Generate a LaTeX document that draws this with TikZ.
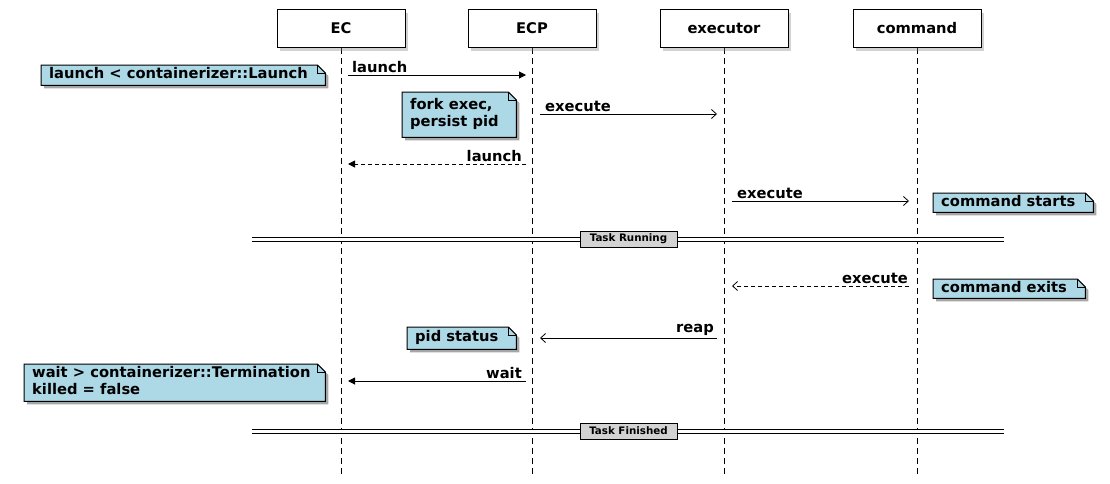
\documentclass[tikz,border=0pt]{standalone}
\usepackage{fontspec}
\setmainfont{DejaVu Sans}
\usetikzlibrary{arrows.meta,backgrounds,shadows}
\definecolor{notebg}{HTML}{ADD8E6}
\definecolor{divbg}{HTML}{D3D3D3}
\pgfdeclarelayer{bg}
\pgfsetlayers{bg,background,main}
\tikzset{
  base/.style={font=\fontsize{14.7}{17}\selectfont\bfseries},
  actor/.style={base, draw, fill=white, line width=1pt, minimum width=128pt, minimum height=38pt, inner sep=0pt,
    drop shadow={shadow xshift=3pt,shadow yshift=-3pt,opacity=.35}},
  lifeline/.style={line width=1pt, dash pattern=on 6pt off 4pt},
  msg/.style={line width=1pt},
  dmsg/.style={line width=1pt, dash pattern=on 4pt off 3pt},
  fulltip/.style={-{Triangle[length=7pt,width=7pt]}},
  opentip/.style={-{Straight Barb[length=5pt,width=9pt,line width=0.8pt]}},
  lbl/.style={base, inner sep=0pt},
  notebox/.style={base, inner xsep=8pt, inner ysep=0pt, anchor=north west},
  notefill/.style={fill=notebg, draw=black, line width=1pt},
  noteshadow/.style={fill=black, opacity=.35},
  divline/.style={draw=black, line width=1pt, double=white, double distance=3pt},
  divlbl/.style={draw=black, fill=divbg, line width=1pt, font=\fontsize{10.3}{12}\selectfont\bfseries,
    minimum width=97pt, minimum height=16pt, inner sep=0pt},
}
\newcommand\notefold[1]{%
  \begin{pgfonlayer}{background}
    \fill[noteshadow] ([shift={(3,3)}]#1.south west) -- ([shift={(3,3)}]#1.north west)
      -- ([shift={(-5,3)}]#1.north east) -- ([shift={(3,11)}]#1.north east)
      -- ([shift={(3,3)}]#1.south east) -- cycle;
    \filldraw[notefill] (#1.south west) -- (#1.north west) -- ([shift={(-8,0)}]#1.north east)
      -- ([shift={(0,8)}]#1.north east) -- (#1.south east) -- cycle;
    \draw[line width=.6pt] ([shift={(-8,0)}]#1.north east) -- ([shift={(-8,8)}]#1.north east)
      -- ([shift={(0,8)}]#1.north east);
  \end{pgfonlayer}}
\newcommand\notetext[2]{\makebox[#1][l]{\begin{tabular}[c]{@{}l@{}}#2\end{tabular}}}
\begin{document}
\begin{tikzpicture}[x=1pt,y=-1pt]
\begin{pgfonlayer}{bg}
  \fill[white] (0,0) rectangle (1110,483);
\end{pgfonlayer}
\useasboundingbox (0,0) rectangle (1110,483);

% participants
\node[actor] (ec)   at (341,28.5) {EC};
\node[actor] (ecp)  at (532,28.5) {ECP};
\node[actor] (exe)  at (724,28.5) {executor};
\node[actor] (cmd)  at (917,28.5) {command};

\coordinate (ecEnd)  at (341,475);
\coordinate (ecpEnd) at (532,475);
\coordinate (exeEnd) at (724,475);
\coordinate (cmdEnd) at (917,475);
\begin{pgfonlayer}{background}
\draw[lifeline] (ec.south)  -- (ecEnd);
\draw[lifeline] (ecp.south) -- (ecpEnd);
\draw[lifeline] (exe.south) -- (exeEnd);
\draw[lifeline] (cmd.south) -- (cmdEnd);
\end{pgfonlayer}

% message 1: launch
\coordinate (m1a) at (348,75);  \coordinate (m1b) at (526,75);
\draw[msg,fulltip] (m1a) -- (m1b);
\node[lbl,anchor=south west] (l1) at (352,72.5) {launch};
\node[notebox,minimum height=20pt] (n1) at (41,65) {\notetext{268pt}{launch < containerizer::Launch}};
\notefold{n1}

% message 2: execute
\coordinate (m2a) at (540,114); \coordinate (m2b) at (717,114);
\draw[msg,opentip] (m2a) -- (m2b);
\node[lbl,anchor=south west] (l2) at (545,111.5) {execute};
\node[notebox,minimum height=45pt] (n2) at (402,92) {\notetext{98pt}{fork exec,\\persist pid}};
\notefold{n2}

% message 3: launch return
\coordinate (m3a) at (526,164); \coordinate (m3b) at (348,164);
\draw[dmsg,fulltip] (m3a) -- (m3b);
\node[lbl,anchor=south east] (l3) at (522,161.5) {launch};

% message 4: execute
\coordinate (m4a) at (732,201); \coordinate (m4b) at (909,201);
\draw[msg,opentip] (m4a) -- (m4b);
\node[lbl,anchor=south west] (l4) at (737,198.5) {execute};
\node[notebox,minimum height=19pt] (n3) at (933,193) {\notetext{144pt}{command starts}};
\notefold{n3}

% divider Task Running
\coordinate (d1a) at (252,239); \coordinate (d1b) at (1004,239);
\draw[divline] (d1a) -- (d1b);
\node[divlbl] (d1) at (628.5,239) {Task Running};

% message 5: execute return
\coordinate (m5a) at (909,286); \coordinate (m5b) at (732,286);
\draw[dmsg,opentip] (m5a) -- (m5b);
\node[lbl,anchor=south east] (l5) at (908,283.5) {execute};
\node[notebox,minimum height=19pt] (n4) at (933,279) {\notetext{136pt}{command exits}};
\notefold{n4}

% message 6: reap
\coordinate (m6a) at (717,338); \coordinate (m6b) at (540,338);
\draw[msg,opentip] (m6a) -- (m6b);
\node[lbl,anchor=south east] (l6) at (714,336) {reap};
\node[notebox,minimum height=22pt] (n5) at (407,327) {\notetext{93pt}{pid status}};
\notefold{n5}

% message 7: wait
\coordinate (m7a) at (526,381); \coordinate (m7b) at (348,381);
\draw[msg,fulltip] (m7a) -- (m7b);
\node[lbl,anchor=south east] (l7) at (522,378.5) {wait};
\node[notebox,minimum height=37pt] (n6) at (24,364) {\notetext{285pt}{wait > containerizer::Termination\\killed = false}};
\notefold{n6}

% divider Task Finished
\coordinate (d2a) at (252,431); \coordinate (d2b) at (1004,431);
\draw[divline] (d2a) -- (d2b);
\node[divlbl] (d2) at (628.5,431) {Task Finished};
\end{tikzpicture}
\end{document}
